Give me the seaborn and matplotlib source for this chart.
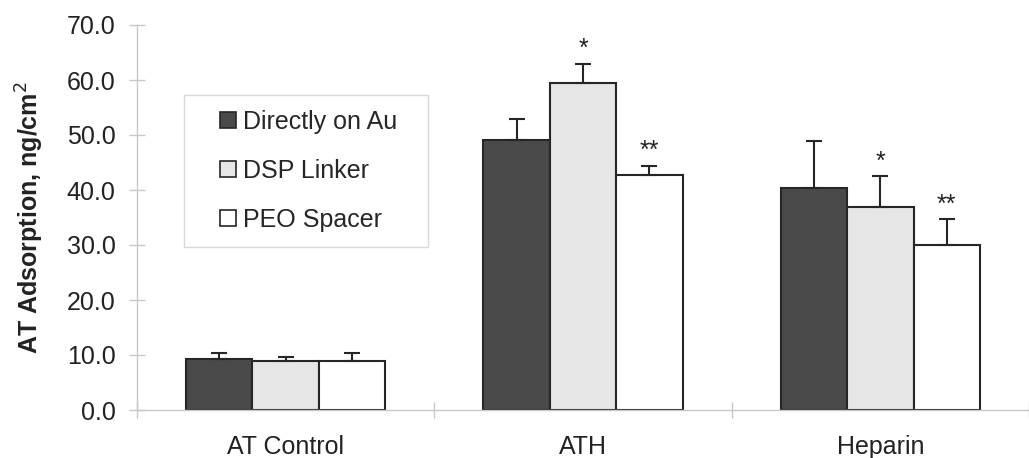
import numpy as np
import pandas as pd
import matplotlib
matplotlib.use('Agg')
import matplotlib.pyplot as plt
from matplotlib.lines import Line2D
import seaborn as sns

# data
groups=['AT Control','ATH','Heparin']
series=['Directly on Au','DSP Linker','PEO Spacer']
means={'Directly on Au':[9.3,49.1,40.4],
       'DSP Linker':[8.9,59.5,37.0],
       'PEO Spacer':[8.9,42.7,30.0]}
errs={'Directly on Au':[1.1,3.9,8.5],
      'DSP Linker':[0.8,3.5,5.5],
      'PEO Spacer':[1.5,1.7,4.7]}
stars={'DSP Linker':['','*','*'],
       'PEO Spacer':['','**','**']}
yticks=[0,10,20,30,40,50,60,70]

colors=['#4a4a4a','#e6e6e6','#ffffff']
fs=18

rows=[]
for s in series:
    for i,g in enumerate(groups):
        rows.append({'group':g,'series':s,'value':means[s][i],'err':errs[s][i]})
df=pd.DataFrame(rows)

sns.set_style('white')
plt.rcParams['font.family']=['Liberation Sans','DejaVu Sans']

fig=plt.figure(figsize=(10.29,4.58),dpi=100)
ax=fig.add_axes([137/1029,48/458,892/1029,385/458])

sns.barplot(data=df,x='group',y='value',hue='series',order=groups,hue_order=series,
            palette=colors,errorbar=None,width=0.67,gap=0,
            edgecolor='#262626',linewidth=1.5,ax=ax,zorder=2,legend=False)

# one-sided error bars and significance marks
for k,s in enumerate(series):
    bars=ax.containers[k]
    xs=[p.get_x()+p.get_width()/2 for p in bars.patches]
    ys=[p.get_height() for p in bars.patches]
    e=np.array(errs[s])
    ax.errorbar(xs,ys,yerr=[np.zeros(len(e)),e],fmt='none',ecolor='#262626',
                elinewidth=1.5,capsize=6,capthick=1.5,zorder=3)
    if s in stars:
        for x,y,ee,t in zip(xs,ys,e,stars[s]):
            if t:
                ax.text(x,y+ee+0.5,t,ha='center',va='bottom',fontsize=fs,color='#222222')

ax.set_ylim(0,70)
ax.set_xlim(-0.5,2.5-8/300)
ax.set_yticks(yticks)
ax.set_yticklabels(['%.1f'%v for v in yticks],fontsize=fs,color='#222222')
ax.set_xticks([-0.5,0.5,1.5,2.5])
ax.set_xticklabels([])
ax.set_xticks([0,1,2],minor=True)
ax.set_xticklabels(groups,minor=True,fontsize=fs,color='#222222')
ax.tick_params(axis='both',which='major',direction='inout',length=11,width=1,
               color='#c8c8c8',left=True,bottom=True)
ax.tick_params(axis='y',pad=10)
ax.tick_params(axis='x',which='minor',length=0,pad=18,bottom=True)

for sp in ['top','right']:
    ax.spines[sp].set_visible(False)
for sp in ['left','bottom']:
    ax.spines[sp].set_color('#c8c8c8')
    ax.spines[sp].set_linewidth(1)

ax.set_xlabel('')
ax.set_ylabel('AT Adsorption, ng/cm$^2$',fontsize=fs,fontweight='bold',labelpad=15,color='#222222')

handles=[Line2D([],[],marker='s',linestyle='none',markersize=11,markerfacecolor=c,
                markeredgecolor='#262626',markeredgewidth=1.2) for c in colors]
leg=ax.legend(handles,series,loc='upper left',mode='expand',
              bbox_to_anchor=(47/892,163/385,244/892,152/385),fontsize=fs,frameon=True,
              fancybox=False,edgecolor='#d0d0d0',borderpad=0.6,labelspacing=1.0,
              handlelength=2.28,handletextpad=-0.52,borderaxespad=0)
leg.get_frame().set_linewidth(1)

fig.savefig('out.png',dpi=100)
